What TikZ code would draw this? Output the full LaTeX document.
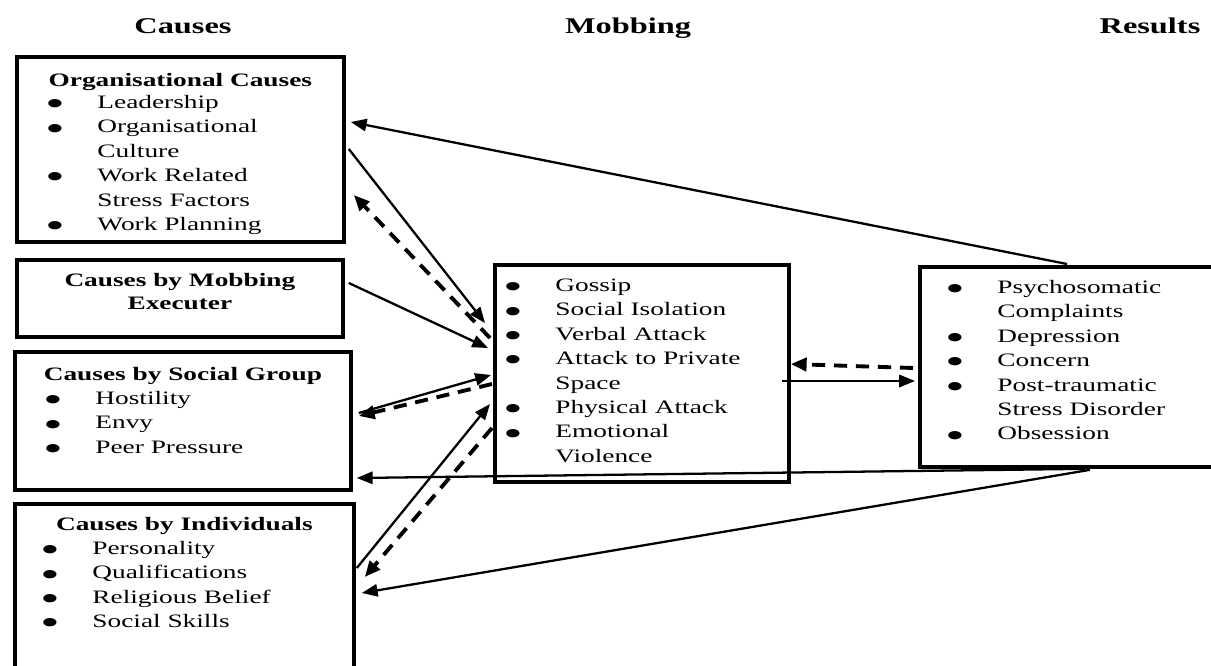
\documentclass[tikz,border=0pt]{standalone}
\usepackage{fontspec}
\setmainfont{Liberation Serif}[FakeStretch=1.44]
\newfontfamily\bulfont{DejaVu Sans}[FakeStretch=1.6]
\usetikzlibrary{arrows.meta}

\newlength{\bw}
\setlength{\bw}{28.5pt}
\newcommand{\itm}[1]{\makebox[\bw][l]{\raisebox{1pt}{\bulfont\fontsize{6.2}{7}\selectfont ●}}#1}
\newcommand{\cnt}[1]{\hspace*{\bw}#1}

\begin{document}
\begin{tikzpicture}[x=0.02cm, y=-0.02cm,
        box/.style={draw, line width=2.2pt, inner sep=0pt},
        lst/.style={anchor=north west, inner sep=0pt, align=left, font=\fontsize{10.8}{13.9}\selectfont},
        hd/.style={anchor=base, inner sep=0pt, font=\fontsize{10.8}{13.9}\selectfont\bfseries},
        ttl/.style={anchor=base, inner sep=0pt, font=\fontsize{12.8}{15}\selectfont\bfseries},
        link/.style={line width=1.3pt, -{Triangle[length=9pt,width=7pt]}},
        back/.style={line width=2.2pt, dash pattern=on 7.5pt off 5pt, -{Triangle[length=9pt,width=7.5pt]}}]
                \clip (0,0) rectangle (1211,666);

                \node[ttl] (tcause) at (183,33.5) {Causes};
                \node[ttl] (tmob) at (628,33.5) {Mobbing};
                \node[ttl] (tres) at (1150,33.5) {Results};

                % causes
                \node[box, minimum width=6.54cm, minimum height=3.70cm, anchor=north west] (org) at (15,55) {};
                \node[hd] (orghd) at ([shift={(0,31)}]org.north) {Organisational Causes};
                \begin{scope}
                \clip (org.north west) rectangle ([shift={(0,-9)}]org.south east);
                \node[lst] (orglst) at ([shift={(32,36)}]org.north west) {\strut\itm{Leadership}\\
                        \itm{Organisational}\\ \cnt{Culture}\\ \itm{Work Related}\\ \cnt{Stress Factors}\\ \itm{Work Planning}};
                \end{scope}

                \node[box, minimum width=6.52cm, minimum height=1.54cm, anchor=north west] (exe) at (15,258) {};
                \node[anchor=north, inner sep=0pt, align=center, font=\fontsize{10.8}{13.2}\selectfont\bfseries] (exehd)
                        at ([shift={(0,12)}]exe.north) {\strut Causes by Mobbing\\ Executer};

                \node[box, minimum width=6.72cm, minimum height=2.76cm, anchor=north west] (soc) at (13,350) {};
                \node[hd] (sochd) at ([shift={(0,30)}]soc.north) {Causes by Social Group};
                \node[lst] (soclst) at ([shift={(32,37)}]soc.north west) {\strut\itm{Hostility}\\ \itm{Envy}\\ \itm{Peer Pressure}};

                \node[box, minimum width=6.78cm, minimum height=3.96cm, anchor=north west] (ind) at (13,502) {};
                \node[hd] (indhd) at ([shift={(0,28)}]ind.north) {Causes by Individuals};
                \node[lst] (indlst) at ([shift={(29,35)}]ind.north west) {\strut\itm{Personality}\\ \itm{Qualifications}\\
                        \itm{Religious Belief}\\ \itm{Social Skills}};

                % mobbing
                \node[box, minimum width=5.88cm, minimum height=4.34cm, anchor=north west] (mob) at (493,263) {};
                \node[lst] (moblst) at ([shift={(12,11)}]mob.north west) {\strut\itm{Gossip}\\ \itm{Social Isolation}\\
                        \itm{Verbal Attack}\\ \itm{Attack to Private}\\ \cnt{Space}\\ \itm{Physical Attack}\\
                        \itm{Emotional}\\ \cnt{Violence}};

                % results
                \node[box, minimum width=6.34cm, minimum height=4.00cm, anchor=north west] (res) at (918,265) {};
                \node[lst] (reslst) at ([shift={(29,11)}]res.north west) {\strut\itm{Psychosomatic}\\ \cnt{Complaints}\\
                        \itm{Depression}\\ \itm{Concern}\\ \itm{Post-traumatic}\\ \cnt{Stress Disorder}\\ \itm{Obsession}};

                % connectors
                \draw[link] ([shift={(149,-1)}]res.north west) -- ([shift={(5,67)}]org.north east);
                \draw[link] ([shift={(3,94)}]org.north east) -- ([shift={(-8,60)}]mob.north west);
                \draw[back] ([shift={(-3,75)}]mob.north west) -- ([shift={(8,140)}]org.north east);
                \draw[link] ([shift={(4,25)}]exe.north east) -- ([shift={(-5,85)}]mob.north west);
                \draw[link] ([shift={(6,63)}]soc.north east) -- ([shift={(-2,112)}]mob.north west);
                \draw[back] ([shift={(-1,121)}]mob.north west) -- ([shift={(6,66)}]soc.north east);
                \draw[link] ([shift={(1,66)}]ind.north east) -- ([shift={(-3,141)}]mob.north west);
                \draw[back] ([shift={(-1,165)}]mob.north west) -- ([shift={(9,75)}]ind.north east);
                \draw[link] ([shift={(167,0)}]res.south west) -- ([shift={(4,128)}]soc.north east);
                \draw[link] ([shift={(172,1)}]res.south west) -- ([shift={(6,91)}]ind.north east);
                \draw[link] ([shift={(-9,118)}]mob.north east) -- ([shift={(-3,116)}]res.north west);
                \draw[back] ([shift={(-5,103)}]res.north west) -- ([shift={(0,101)}]mob.north east);
\end{tikzpicture}
\end{document}
